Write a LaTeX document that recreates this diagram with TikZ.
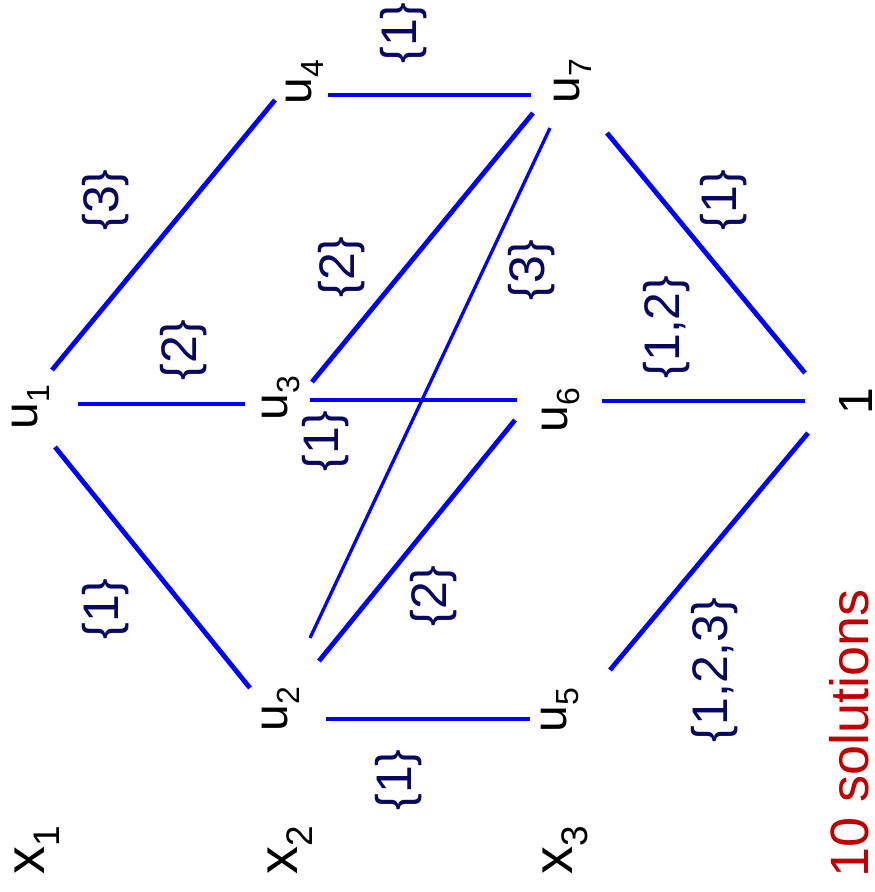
\documentclass[tikz,border=0pt]{standalone}
\usepackage{fontspec}
\setmainfont{Liberation Sans}
\usetikzlibrary{calc}
\definecolor{edgeblue}{RGB}{0,0,255}
\definecolor{setnavy}{RGB}{8,8,96}
\definecolor{solred}{RGB}{192,0,0}
\newcommand\vtx[2]{#1\raisebox{-12pt}{\fontsize{32}{32}\selectfont #2}}
\newcommand\xvar[2]{#1\raisebox{-15pt}{\fontsize{37}{37}\selectfont #2}}
\begin{document}
\begin{tikzpicture}[x=1pt,y=-1pt,
  vlabel/.style={rotate=90, inner sep=0pt, font=\fontsize{48}{48}\selectfont},
  xlabel/.style={rotate=90, inner sep=0pt, font=\fontsize{56}{56}\selectfont},
  setlabel/.style={rotate=90, inner sep=0pt, text=setnavy, font=\fontsize{50}{50}\selectfont},
  sollabel/.style={rotate=90, inner sep=0pt, text=solred, font=\fontsize{54}{54}\selectfont},
  linkline/.style={draw=edgeblue, line width=4.8pt},
  thinlink/.style={draw=edgeblue, line width=3.3pt}]
\useasboundingbox (0,0) rectangle (875,892);
% vertices
\node[vlabel] (u1) at (31,407) {\vtx{u}{1}};
\node[vlabel] (u4) at (305,82) {\vtx{u}{4}};
\node[vlabel] (u7) at (573,81) {\vtx{u}{7}};
\node[vlabel] (u3) at (281,398) {\vtx{u}{3}};
\node[vlabel] (u6) at (561,410) {\vtx{u}{6}};
\node[vlabel] (one) at (856,401) {1};
\node[vlabel] (u2) at (281,709) {\vtx{u}{2}};
\node[vlabel] (u5) at (560,710) {\vtx{u}{5}};
\node[xlabel] (x1) at (37,850) {\xvar{x}{1}};
\node[xlabel] (x2) at (290,850) {\xvar{x}{2}};
\node[xlabel] (x3) at (565,850) {\xvar{x}{3}};
\node[sollabel] (sol) at (849,733) {10 solutions};
% edge sets
\node[setlabel] (s14) at (106,200) {\{3\}};
\node[setlabel] (s13) at (184,350) {\{2\}};
\node[setlabel] (s12) at (106,609) {\{1\}};
\node[setlabel] (s47) at (404,33) {\{1\}};
\node[setlabel] (s37) at (342,267) {\{2\}};
\node[setlabel] (s27) at (532,270) {\{3\}};
\node[setlabel] (s36) at (326,441) {\{1\}};
\node[setlabel] (s26) at (434,596) {\{2\}};
\node[setlabel] (s25) at (399,780) {\{1\}};
\node[setlabel] (s71) at (724,200) {\{1\}};
\node[setlabel] (s61) at (667,327) {\{1,2\}};
\node[setlabel] (s51) at (715,670) {\{1,2,3\}};
% connectors
\draw[linkline] ($(u1)+(21,-37)$) -- ($(u4)+(-30,18)$);
\draw[linkline] ($(u1)+(47,-3)$) -- ($(u3)+(-36,6)$);
\draw[linkline] ($(u1)+(24,40)$) -- ($(u2)+(-31,-21)$);
\draw[linkline] ($(u4)+(23,13)$) -- ($(u7)+(-42,14)$);
\draw[linkline] ($(u3)+(31,-16)$) -- ($(u7)+(-40,32)$);
\draw[thinlink] ($(u2)+(29,-71)$) -- ($(u7)+(-23,47)$);
\draw[linkline] ($(u3)+(29,2)$) -- ($(u6)+(-44,-10)$);
\draw[linkline] ($(u2)+(38,-48)$) -- ($(u6)+(-46,10)$);
\draw[linkline] ($(u6)+(41,-9)$) -- ($(one)+(-51,0)$);
\draw[linkline] ($(u7)+(34,52)$) -- ($(one)+(-51,-28)$);
\draw[linkline] ($(u5)+(50,-40)$) -- ($(one)+(-48,32)$);
\draw[linkline] ($(u2)+(45,10)$) -- ($(u5)+(-30,9)$);
\end{tikzpicture}
\end{document}
